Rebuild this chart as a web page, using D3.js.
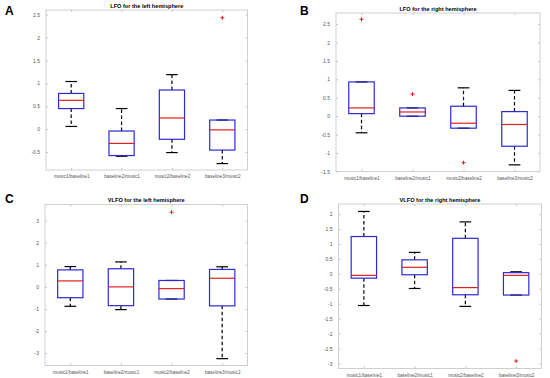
<!DOCTYPE html>
<html>
<head>
<meta charset="utf-8">
<script src="https://cdn.jsdelivr.net/npm/d3@7"></script>
<style>
  body { margin: 0; background: #fff; }
  svg { display: block; font-family: "Liberation Sans", Arial, sans-serif; }
</style>
</head>
<body>
<svg id="chart" width="550" height="378"></svg>
<script>
// groups on the x axis, same for all four panels
const categories = ["music1/baseline1", "baseline2/music1", "music2/baseline2", "baseline3/music2"];

// box stats per group: [lower whisker, q1, median, q3, upper whisker]
const lfoLeftStats = [
  [0.06, 0.45, 0.63, 0.78, 1.04],
  [-0.59, -0.575, -0.31, -0.04, 0.45],
  [-0.51, -0.22, 0.245, 0.855, 1.19],
  [-0.75, -0.455, -0.015, 0.2, 0.2]
];
const lfoLeftOutliers = [[], [], [], [2.43]];
const lfoLeftTicks = [-0.5, 0, 0.5, 1, 1.5, 2, 2.5];

const lfoRightStats = [
  [-0.45, 0.07, 0.225, 0.93, 0.93],
  [0, 0, 0.115, 0.225, 0.225],
  [-0.325, -0.325, -0.19, 0.27, 0.77],
  [-1.32, -0.815, -0.225, 0.125, 0.7]
];
const lfoRightOutliers = [[2.63], [0.6], [-1.26], []];
const lfoRightTicks = [-1.5, -1, -0.5, 0, 0.5, 1, 1.5, 2, 2.5];

const vlfoLeftStats = [
  [-0.88, -0.49, 0.27, 0.77, 0.92],
  [-1.03, -0.85, 0, 0.82, 1.13],
  [-0.55, -0.55, -0.08, 0.29, 0.29],
  [-3.25, -0.86, 0.39, 0.79, 0.91]
];
const vlfoLeftOutliers = [[], [], [3.38], []];
const vlfoLeftTicks = [-3, -2, -1, 0, 1, 2, 3];

const vlfoRightStats = [
  [-1.06, -0.145, -0.05, 1.25, 2.09],
  [-0.49, -0.03, 0.22, 0.47, 0.72],
  [-1.09, -0.7, -0.46, 1.19, 1.74],
  [-0.71, -0.71, -0.05, 0.04, 0.07]
];
const vlfoRightOutliers = [[], [], [], [-2.92]];
const vlfoRightTicks = [-3, -2.5, -2, -1.5, -1, -0.5, 0, 0.5, 1, 1.5, 2];

const panels = [
  {letter: "A", title: "LFO for the left hemisphere", stats: lfoLeftStats, outliers: lfoLeftOutliers,
   ticks: lfoLeftTicks, ylim: [-0.89, 2.6], box: {x: 46, y: 10, w: 201.5, h: 160}, lx: 5, ly: 15},
  {letter: "B", title: "LFO for the right hemisphere", stats: lfoRightStats, outliers: lfoRightOutliers,
   ticks: lfoRightTicks, ylim: [-1.5, 2.8], box: {x: 336, y: 13, w: 204, h: 158.5}, lx: 300, ly: 15},
  {letter: "C", title: "VLFO for the left hemisphere", stats: vlfoLeftStats, outliers: vlfoLeftOutliers,
   ticks: vlfoLeftTicks, ylim: [-3.56, 3.73], box: {x: 45, y: 204.5, w: 202.5, h: 161}, lx: 5, ly: 203},
  {letter: "D", title: "VLFO for the right hemisphere", stats: vlfoRightStats, outliers: vlfoRightOutliers,
   ticks: vlfoRightTicks, ylim: [-3.17, 2.34], box: {x: 338.5, y: 204, w: 203, h: 164.5}, lx: 300, ly: 203}
];

const svg = d3.select("#chart");
const frameColor = "#c4c4c4";
const boxColor = "#2b2bd6";
const medColor = "#e02020";

panels.forEach(p => {
  const b = p.box;
  const g = svg.append("g").attr("transform", `translate(${b.x},${b.y})`);

  const x = d3.scaleLinear().domain([0.5, categories.length + 0.5]).range([0, b.w]);
  const y = d3.scaleLinear().domain(p.ylim).range([b.h, 0]);

  // frame
  g.append("rect")
    .attr("width", b.w).attr("height", b.h)
    .attr("fill", "none").attr("stroke", frameColor).attr("stroke-width", 0.8);

  // left axis with inward ticks
  const yAxis = d3.axisLeft(y).tickValues(p.ticks).tickSizeInner(-2).tickSizeOuter(0)
    .tickPadding(6).tickFormat(d => String(d));
  const ya = g.append("g").call(yAxis);
  ya.select(".domain").remove();
  ya.selectAll("line").attr("stroke", frameColor);
  ya.selectAll("text").attr("font-size", 5).attr("fill", "#555");

  // matching ticks on the right side
  g.append("g").attr("transform", `translate(${b.w},0)`)
    .call(d3.axisRight(y).tickValues(p.ticks).tickSizeInner(-2).tickSizeOuter(0).tickFormat(""))
    .call(a => a.select(".domain").remove())
    .selectAll("line").attr("stroke", frameColor);

  // bottom axis
  const xa = g.append("g").attr("transform", `translate(0,${b.h})`)
    .call(d3.axisBottom(x).tickValues(d3.range(1, categories.length + 1))
      .tickSizeInner(-2).tickSizeOuter(0).tickPadding(5).tickFormat(i => categories[i - 1]));
  xa.select(".domain").remove();
  xa.selectAll("line").attr("stroke", frameColor);
  xa.selectAll("text").attr("font-size", 4.6).attr("fill", "#555");

  g.append("g")
    .call(d3.axisTop(x).tickValues(d3.range(1, categories.length + 1)).tickSizeInner(-2).tickSizeOuter(0).tickFormat(""))
    .call(a => a.select(".domain").remove())
    .selectAll("line").attr("stroke", frameColor);

  // title
  svg.append("text")
    .attr("x", b.x + b.w / 2).attr("y", b.y - 2.5)
    .attr("text-anchor", "middle")
    .attr("font-size", 5.6).attr("font-weight", "bold")
    .text(p.title);

  // panel letter
  svg.append("text")
    .attr("x", p.lx).attr("y", p.ly)
    .attr("font-size", 12).attr("font-weight", "bold")
    .text(p.letter);

  const halfBox = 0.25, halfCap = 0.115;

  p.stats.forEach((s, i) => {
    const cx = i + 1;
    const [lo, q1, med, q3, hi] = s;
    const bg = g.append("g");

    // whiskers
    bg.append("line")
      .attr("x1", x(cx)).attr("x2", x(cx)).attr("y1", y(q3)).attr("y2", y(hi))
      .attr("stroke", "#000").attr("stroke-width", 1.2).attr("stroke-dasharray", "3.5,2.5");
    bg.append("line")
      .attr("x1", x(cx)).attr("x2", x(cx)).attr("y1", y(q1)).attr("y2", y(lo))
      .attr("stroke", "#000").attr("stroke-width", 1.2).attr("stroke-dasharray", "3.5,2.5");

    // caps (drawn under the box so they hide when equal to a quartile)
    [lo, hi].forEach(v => {
      bg.append("line")
        .attr("x1", x(cx - halfCap)).attr("x2", x(cx + halfCap))
        .attr("y1", y(v)).attr("y2", y(v))
        .attr("stroke", "#000").attr("stroke-width", 1.2);
    });

    // box
    bg.append("rect")
      .attr("x", x(cx - halfBox)).attr("y", y(q3))
      .attr("width", x(cx + halfBox) - x(cx - halfBox))
      .attr("height", Math.max(0.5, y(q1) - y(q3)))
      .attr("fill", "none").attr("stroke", boxColor).attr("stroke-width", 1.2);

    // median
    bg.append("line")
      .attr("x1", x(cx - halfBox)).attr("x2", x(cx + halfBox))
      .attr("y1", y(med)).attr("y2", y(med))
      .attr("stroke", medColor).attr("stroke-width", 1.2);

    // outliers as red plus signs
    p.outliers[i].forEach(v => {
      const ox = x(cx), oy = y(v);
      bg.append("path")
        .attr("d", `M${ox - 2},${oy}H${ox + 2}M${ox},${oy - 2}V${oy + 2}`)
        .attr("stroke", medColor).attr("stroke-width", 1);
    });
  });
});
</script>
</body>
</html>
